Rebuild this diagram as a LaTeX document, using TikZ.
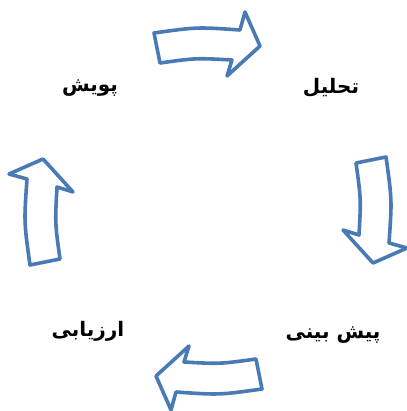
\documentclass[tikz,border=0pt]{standalone}
\usepackage{fontspec}
\newfontfamily\persianfont[Script=Arabic]{DejaVu Sans}
\TeXXeTstate=1
\definecolor{cycleblue}{RGB}{74,122,182}
\tikzset{
  cyclearrow/.style={draw=cycleblue, line width=3.6pt, fill=white, line join=round},
  steplabel/.style={font={\persianfont\bfseries\fontsize{20}{24}\selectfont}}
}

\begin{document}
\begin{tikzpicture}[x=1pt, y=-1pt]
  \useasboundingbox (0,0) rectangle (406,411);

  % Curved block arrows of the cycle, turning clockwise
  \foreach \angle in {0,90,180,270} {
    \begin{scope}[shift={(208,211)}, rotate=-\angle]
      \draw[cyclearrow] (-54,-178) .. controls (-11,-184) .. (32,-181) -- (37,-199)
        -- (52,-165) -- (19,-135) -- (24,-151) .. controls (-12,-153) .. (-48,-148) -- cycle;
    \end{scope}
  }

  % Stage labels
  \node[steplabel] (puyesh) at (90,88) {\beginR پویش\endR};
  \node[steplabel] (tahlil) at (331,88) {\beginR تحلیل\endR};
  \node[steplabel] (pishbini) at (333,335) {\beginR پیش بینی\endR};
  \node[steplabel] (arzyabi) at (88,331) {\beginR ارزیابی\endR};
\end{tikzpicture}
\end{document}
